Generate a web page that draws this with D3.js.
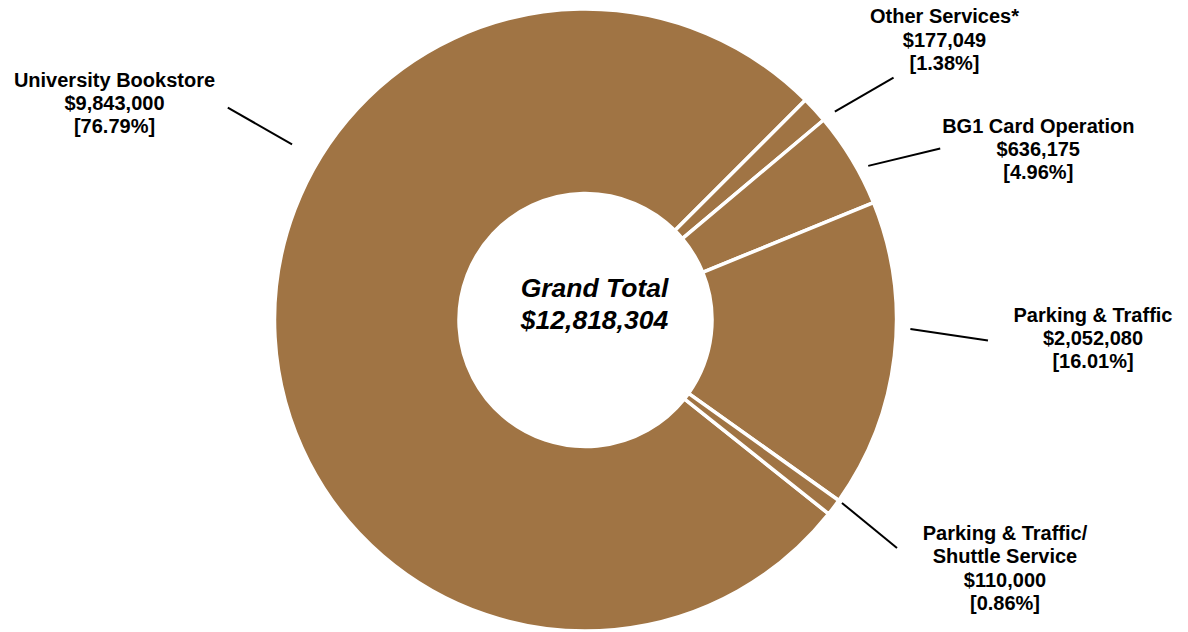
<!DOCTYPE html>
<html>
<head>
<meta charset="utf-8">
<script src="https://cdn.jsdelivr.net/npm/d3@7"></script>
<style>
  html, body { margin: 0; padding: 0; background: #fff; }
  svg { display: block; font-family: "Liberation Sans", Arial, sans-serif; }
</style>
</head>
<body>
<div id="chart"></div>
<script>
// Revenue by unit (pie order, clockwise starting with the bookstore)
const units = [
  "University Bookstore",
  "Other Services*",
  "BG1 Card Operation",
  "Parking & Traffic",
  "Parking & Traffic/\nShuttle Service"
];
const amounts = [9843000, 177049, 636175, 2052080, 110000];
const shares = ["76.79%", "1.38%", "4.96%", "16.01%", "0.86%"];
const grandTotal = 12818304;

// label placement (x, first baseline) and leader line ends in polar form (deg, px)
const labelLayout = [
  { x: 114.5, y: 86.5, from: [300.9, 342], to: [300.7, 416] },
  { x: 944.5, y: 23.3, from: [50.1, 325], to: [51.8, 392] },
  { x: 1038.3, y: 132.7, from: [61.4, 322], to: [64.2, 394] },
  { x: 1093, y: 321.7, from: [91.6, 325], to: [92.9, 403] },
  { x: 1005, y: 540, from: [125.5, 315], to: [126.2, 386] }
];

const width = 1188;
const height = 632;
const cx = 585.5;
const cy = 320;
const outerR = 311;
const innerR = 126.5;
const fill = "#A07444";
const fmt = d3.format("$,");

const svg = d3.select("#chart")
  .append("svg")
  .attr("width", width)
  .attr("height", height);

const g = svg.append("g").attr("transform", `translate(${cx},${cy})`);

// bookstore slice ends at 45deg, so start it that far back
const total = d3.sum(amounts);
const startDeg = 45 - (amounts[0] / total) * 360;
const start = startDeg * Math.PI / 180;

const pie = d3.pie()
  .sort(null)
  .value(d => d)
  .startAngle(start)
  .endAngle(start + 2 * Math.PI);

const arc = d3.arc().innerRadius(innerR).outerRadius(outerR);

g.selectAll("path.slice")
  .data(pie(amounts))
  .enter()
  .append("path")
  .attr("class", "slice")
  .attr("d", arc)
  .attr("fill", fill)
  .attr("stroke", "#fff")
  .attr("stroke-width", 3.5)
  .attr("stroke-linejoin", "round");

// leader lines
const rad = deg => deg * Math.PI / 180;
g.selectAll("line.leader")
  .data(labelLayout)
  .enter()
  .append("line")
  .attr("class", "leader")
  .attr("x1", d => d3.pointRadial(rad(d.from[0]), d.from[1])[0])
  .attr("y1", d => d3.pointRadial(rad(d.from[0]), d.from[1])[1])
  .attr("x2", d => d3.pointRadial(rad(d.to[0]), d.to[1])[0])
  .attr("y2", d => d3.pointRadial(rad(d.to[0]), d.to[1])[1])
  .attr("stroke", "#000")
  .attr("stroke-width", 2);

// slice labels
const lineGap = 23.3;
units.forEach((name, i) => {
  const lines = name.split("\n").concat([fmt(amounts[i]), `[${shares[i]}]`]);
  const pos = labelLayout[i];
  const t = svg.append("text")
    .attr("text-anchor", "middle")
    .attr("font-size", "20px")
    .attr("font-weight", "bold")
    .attr("fill", "#000");
  lines.forEach((s, j) => {
    t.append("tspan")
      .attr("x", pos.x)
      .attr("y", pos.y + j * lineGap)
      .text(s);
  });
});

// centre total
const centre = svg.append("text")
  .attr("text-anchor", "middle")
  .attr("font-size", "26.5px")
  .attr("font-weight", "bold")
  .attr("font-style", "italic")
  .attr("fill", "#000");
centre.append("tspan").attr("x", cx + 9).attr("y", 297).text("Grand Total");
centre.append("tspan").attr("x", cx + 9).attr("y", 329).text(fmt(grandTotal));
</script>
</body>
</html>
